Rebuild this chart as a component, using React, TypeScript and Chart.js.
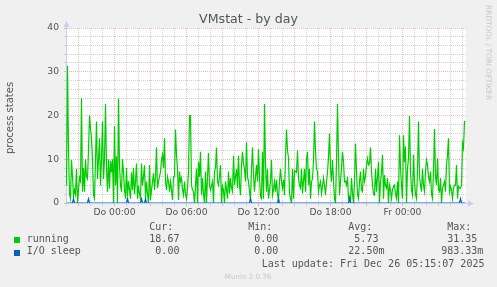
import React, { useEffect, useRef } from "react";
import { Chart, registerables } from "chart.js";

Chart.register(...registerables);

// ---- data -------------------------------------------------------------
const title = "VMstat - by day";
const yAxisTitle = "process states";
const stepMinutes = 5; // one sample every 5 minutes, first sample at Wed 20:00

const running: number[] = [
  4, 31.35, 12, 2, 1, 9.8, 6, 1.5, 3, 2,
  7.8, 0, 3, 5.8, 5, 24, 2.6, 8, 2.6, 10,
  6, 5.5, 12, 20, 17, 14.8, 10, 1.8, 1, 10,
  18.6, 5.5, 10, 14.8, 4, 10, 18.6, 5.5, 10, 22.6,
  8, 2.6, 10, 3.3, 9.6, 7, 10, 0, 17.6, 4,
  10.7, 0, 23.8, 8.6, 4, 2.6, 10, 7, 3, 1,
  8, 1.5, 5, 3, 1, 7, 3, 8, 2, 5,
  9, 1, 4, 2, 1, 9, 4, 6, 8.6, 1,
  4.9, 2, 0, 8.7, 0.7, 3, 4.9, 6.8, 3, 6,
  12.7, 3.4, 4.9, 6, 7.2, 9.8, 11, 8, 14.8, 4.9,
  3, 6, 4.9, 2.6, 4.9, 3, 0.7, 6, 6, 16.8,
  11, 7.9, 0.7, 7.2, 4.9, 5.7, 3, 1.8, 4.9, 2,
  1, 3.4, 7.2, 20, 20, 4.1, 3, 2.6, 0, 4,
  7.9, 0, 9.4, 6, 11.7, 1.8, 5.7, 2, 0, 7.2,
  0, 6, 11.4, 4.1, 3, 4, 4.9, 0, 7.2, 8,
  12.7, 4.9, 4.1, 6, 8.7, 0, 3.8, 3, 0, 4.9,
  3, 1, 7.2, 2.2, 5.7, 3.5, 2.6, 10.8, 4.1, 6,
  7.8, 3.4, 10.8, 4, 1.8, 8.7, 11.7, 9, 7.8, 4.9,
  13.9, 6, 4.9, 2.6, 0.7, 8, 12.7, 6.4, 2.6, 6,
  8.7, 4.9, 12.3, 6, 1.5, 1, 11.7, 1, 22.6, 8.7,
  2.6, 7.8, 1, 3, 4.9, 9.8, 1.8, 3, 4.9, 2.6,
  5.3, 2, 0.7, 4.9, 7.8, 5, 3.4, 5.3, 1.8, 10.7,
  16.8, 12, 10.3, 2.2, 1, 0, 7.8, 1, 7.4, 7.2,
  7, 12, 5.7, 4, 3.4, 7.8, 2.2, 5, 7.8, 2.6,
  9.8, 11.7, 4.1, 7.8, 1, 4.9, 5.5, 9.6, 18.6, 11.7,
  7.9, 7.2, 2.6, 4.1, 4.9, 2.2, 3.8, 5.7, 4, 1.8,
  4.9, 7, 10.6, 15.9, 7.8, 4.9, 9.8, 5, 1, 0,
  9.4, 22.6, 10.3, 1.8, 4.9, 8, 11.7, 9.4, 4.9, 5,
  4.1, 6, 1, 1.5, 0, 5.7, 2.2, 0, 5, 13.6,
  7.2, 2, 1, 4.9, 7.2, 3, 2.6, 7.8, 4.9, 6,
  8.7, 10.2, 8.7, 9, 12.7, 7.2, 4.1, 2, 1.8, 7.8,
  2.6, 6, 9.4, 0, 4.9, 7, 11, 1, 6.4, 4,
  3.4, 5.7, 0, 4.1, 3, 1, 3, 3.8, 4.1, 2,
  1, 4.9, 0, 15.5, 8, 4.1, 1, 15.5, 9.4, 12.9,
  0, 7.8, 10.2, 19.9, 7.2, 3, 1.8, 11, 4.9, 2,
  1, 7.2, 18.6, 6, 4.1, 2.6, 7.8, 4, 2.6, 7.2,
  9.8, 8.7, 6, 4.9, 7.2, 2, 1, 7.2, 16.9, 6,
  4.1, 10.2, 3, 2.6, 5.7, 0, 3.4, 4.1, 4.9, 2.6,
  8.7, 11, 14.8, 2.6, 3.8, 3, 1, 3.4, 4.1, 4.1,
  8.7, 1, 3.8, 3.4, 3.4, 4.1, 13.6, 12.5, 18.6, 18.67,
];

// I/O sleep is 0 except for a few short blips (sample index -> value)
const ioSleepIndex = [7, 22, 61, 75, 79, 184, 212, 283, 394];
const ioSleepValue = [0.98, 0.97, 0.98, 0.95, 0.96, 0.98, 0.97, 0.98, 0.983];

const xLabelMinutes = [240, 600, 960, 1320, 1680];
const xLabels = ["Do 00:00", "Do 06:00", "Do 12:00", "Do 18:00", "Fr 00:00"];
const yMax = 40;

const legendNames = ["running", "I/O sleep"];
const legendColors = ["#00cc00", "#0066b3"];
const statHeaders = ["Cur:", "Min:", "Avg:", "Max:"];
const runningStats = ["18.67", "0.00", "5.73", "31.35"];
const ioSleepStats = ["0.00", "0.00", "22.50m", "983.33m"];
const lastUpdate = "Last update: Fri Dec 26 05:15:07 2025";
const muninVersion = "Munin 2.0.76";
const watermark = "RRDTOOL / TOBI OETIKER";

// ---- styling ----------------------------------------------------------
const RED = "rgba(225,70,70,0.38)";
const GRAY = "#d2d2d2";
const AXIS = "#c6cef4";
const FONT_COLOR = "#555555";
const MONO = '"DejaVu Sans Mono", monospace';
const SANS = '"DejaVu Sans", sans-serif';
const colStart = [143.3, 242.2, 342.3, 441.2];
const baselines = [230.3, 242.6, 254.9, 267.2];

function fmt(s: string) {
  const m = s.endsWith("m");
  const num = m ? s.slice(0, -1) : s;
  return num.padStart(6, " ") + (m ? "m" : "");
}

function Txt(props: {
  x: number;
  base: number;
  size: number;
  family: string;
  color: string;
  center?: boolean;
  children: React.ReactNode;
}) {
  const { x, base, size, family, color, center, children } = props;
  return (
    <div
      style={{
        position: "absolute",
        left: x,
        top: base - 0.846 * size,
        fontSize: size,
        lineHeight: `${size}px`,
        fontFamily: family,
        color,
        whiteSpace: "pre",
        transform: center ? "translateX(-50%)" : undefined,
      }}
    >
      {children}
    </div>
  );
}

export default function App() {
  const canvasRef = useRef<HTMLCanvasElement>(null);

  useEffect(() => {
    document.body.style.margin = "0";
    document.body.style.background = "#f0f0f0";
    const canvas = canvasRef.current!;
    const xs = running.map((_, i) => i * stepMinutes);
    const io = running.map(() => 0);
    ioSleepIndex.forEach((idx, k) => {
      io[idx] = ioSleepValue[k];
    });
    const lastX = xs[xs.length - 1];
    const hourTicks: number[] = [];
    for (let m = 0; m <= lastX; m += 60) hourTicks.push(m);

    const isMajorX = (v: any) => typeof v === "number" && (v - 60) % 180 === 0;
    const isMajorY = (v: any) => typeof v === "number" && v % 10 === 0;

    const framePlugin = {
      id: "frame",
      beforeDraw(chart: any) {
        const { ctx, chartArea: a } = chart;
        ctx.save();
        ctx.fillStyle = "#ffffff";
        ctx.fillRect(a.left, a.top, a.right - a.left, a.bottom - a.top);
        ctx.restore();
      },
      afterDraw(chart: any) {
        const { ctx, chartArea: a } = chart;
        ctx.save();
        ctx.fillStyle = AXIS;
        ctx.strokeStyle = AXIS;
        ctx.lineWidth = 1;
        ctx.beginPath();
        ctx.moveTo(a.left + 0.5, a.top);
        ctx.lineTo(a.left + 0.5, a.top - 3);
        ctx.moveTo(a.right, a.bottom + 0.5);
        ctx.lineTo(a.right + 3, a.bottom + 0.5);
        ctx.stroke();
        ctx.beginPath();
        ctx.moveTo(a.left + 0.5, a.top - 7);
        ctx.lineTo(a.left - 2.5, a.top - 1);
        ctx.lineTo(a.left + 3.5, a.top - 1);
        ctx.closePath();
        ctx.fill();
        ctx.beginPath();
        ctx.moveTo(a.right + 8, a.bottom + 0.5);
        ctx.lineTo(a.right + 2, a.bottom - 2.5);
        ctx.lineTo(a.right + 2, a.bottom + 3.5);
        ctx.closePath();
        ctx.fill();
        ctx.restore();
      },
    };

    const chart = new Chart(canvas, {
      type: "line",
      data: {
        datasets: [
          {
            label: legendNames[0],
            data: xs.map((x, i) => ({ x, y: running[i] })),
            borderColor: legendColors[0],
            backgroundColor: legendColors[0],
            borderWidth: 1.2,
            pointRadius: 0,
            tension: 0,
            fill: false,
            order: 2,
          },
          {
            label: legendNames[1],
            data: xs.map((x, i) => ({ x, y: io[i] })),
            borderColor: legendColors[1],
            backgroundColor: legendColors[1],
            borderWidth: 1.2,
            pointRadius: 0,
            tension: 0,
            fill: false,
            order: 1,
          },
        ],
      },
      options: {
        animation: false,
        responsive: false,
        devicePixelRatio: 1,
        events: [],
        layout: { padding: { top: 28, right: 31, left: 0, bottom: 0 } },
        plugins: {
          legend: { display: false },
          title: { display: false },
          tooltip: { enabled: false },
        },
        scales: {
          x: {
            type: "linear",
            min: -2.5,
            max: lastX + 2.5,
            afterBuildTicks: (s: any) => {
              s.ticks = hourTicks.map((v) => ({ value: v }));
            },
            afterFit: (s: any) => {
              s.height = 84;
            },
            grid: {
              color: (c: any) => (isMajorX(c.tick && c.tick.value) ? RED : GRAY),
              tickColor: (c: any) => (isMajorX(c.tick && c.tick.value) ? RED : GRAY),
              tickLength: 3,
              lineWidth: 1,
              borderDash: [1, 1],
            },
            border: { display: true, color: AXIS, width: 1, dash: [1, 1] },
            ticks: {
              autoSkip: false,
              maxRotation: 0,
              minRotation: 0,
              padding: 1,
              color: FONT_COLOR,
              font: { family: "DejaVu Sans", size: 9.2 },
              callback: (v: any) => {
                const k = xLabelMinutes.indexOf(Number(v));
                return k >= 0 ? xLabels[k] : "";
              },
            },
          },
          y: {
            type: "linear",
            min: 0,
            max: yMax,
            afterFit: (s: any) => {
              s.width = 66;
            },
            grid: {
              color: (c: any) => (isMajorY(c.tick && c.tick.value) ? RED : GRAY),
              tickColor: (c: any) => (isMajorY(c.tick && c.tick.value) ? RED : GRAY),
              tickLength: 2,
              lineWidth: 1,
              borderDash: [1, 1],
            },
            border: { display: true, color: AXIS, width: 1, dash: [1, 1] },
            ticks: {
              stepSize: 2,
              autoSkip: false,
              padding: 5,
              color: FONT_COLOR,
              font: { family: "DejaVu Sans", size: 9.2 },
              callback: (v: any) => (Number(v) % 10 === 0 ? String(v) : ""),
            },
          },
        },
      },
      plugins: [framePlugin],
    } as any);

    return () => chart.destroy();
  }, []);

  return (
    <div
      style={{
        position: "relative",
        width: 497,
        height: 287,
        background: "#f0f0f0",
        overflow: "hidden",
      }}
    >
      <canvas
        ref={canvasRef}
        width={497}
        height={287}
        style={{ position: "absolute", left: 0, top: 0, width: 497, height: 287 }}
      />
      <Txt x={248.5} base={23.5} size={12.6} family={SANS} color={FONT_COLOR} center>
        {title}
      </Txt>
      <div
        style={{
          position: "absolute",
          left: 4.5,
          top: 153.5,
          fontSize: 10,
          lineHeight: "10px",
          fontFamily: SANS,
          color: FONT_COLOR,
          whiteSpace: "pre",
          transformOrigin: "left top",
          transform: "rotate(-90deg)",
        }}
      >
        {yAxisTitle}
      </div>
      <div
        style={{
          position: "absolute",
          left: 491.5,
          top: 5,
          fontSize: 7.4,
          lineHeight: "7.4px",
          fontFamily: SANS,
          color: "#c8c8c8",
          whiteSpace: "pre",
          transformOrigin: "left top",
          transform: "rotate(90deg)",
        }}
      >
        {watermark}
      </div>
      {statHeaders.map((h, k) => (
        <Txt key={"h" + k} x={colStart[k] + 6} base={baselines[0]} size={10} family={MONO} color={FONT_COLOR}>
          {h}
        </Txt>
      ))}
      {[runningStats, ioSleepStats].map((row, r) => (
        <React.Fragment key={"r" + r}>
          <div
            style={{
              position: "absolute",
              left: 14,
              top: baselines[r + 1] - 5.3,
              width: 6,
              height: 6,
              background: legendColors[r],
            }}
          />
          <Txt x={26.7} base={baselines[r + 1]} size={10} family={MONO} color={FONT_COLOR}>
            {legendNames[r]}
          </Txt>
          {row.map((s, k) => (
            <Txt key={k} x={colStart[k]} base={baselines[r + 1]} size={10} family={MONO} color={FONT_COLOR}>
              {fmt(s)}
            </Txt>
          ))}
        </React.Fragment>
      ))}
      <Txt x={261.7} base={baselines[3]} size={10} family={MONO} color={FONT_COLOR}>
        {lastUpdate}
      </Txt>
      <Txt x={248} base={278.6} size={7.1} family={SANS} color="#c8c8c8" center>
        {muninVersion}
      </Txt>
    </div>
  );
}
